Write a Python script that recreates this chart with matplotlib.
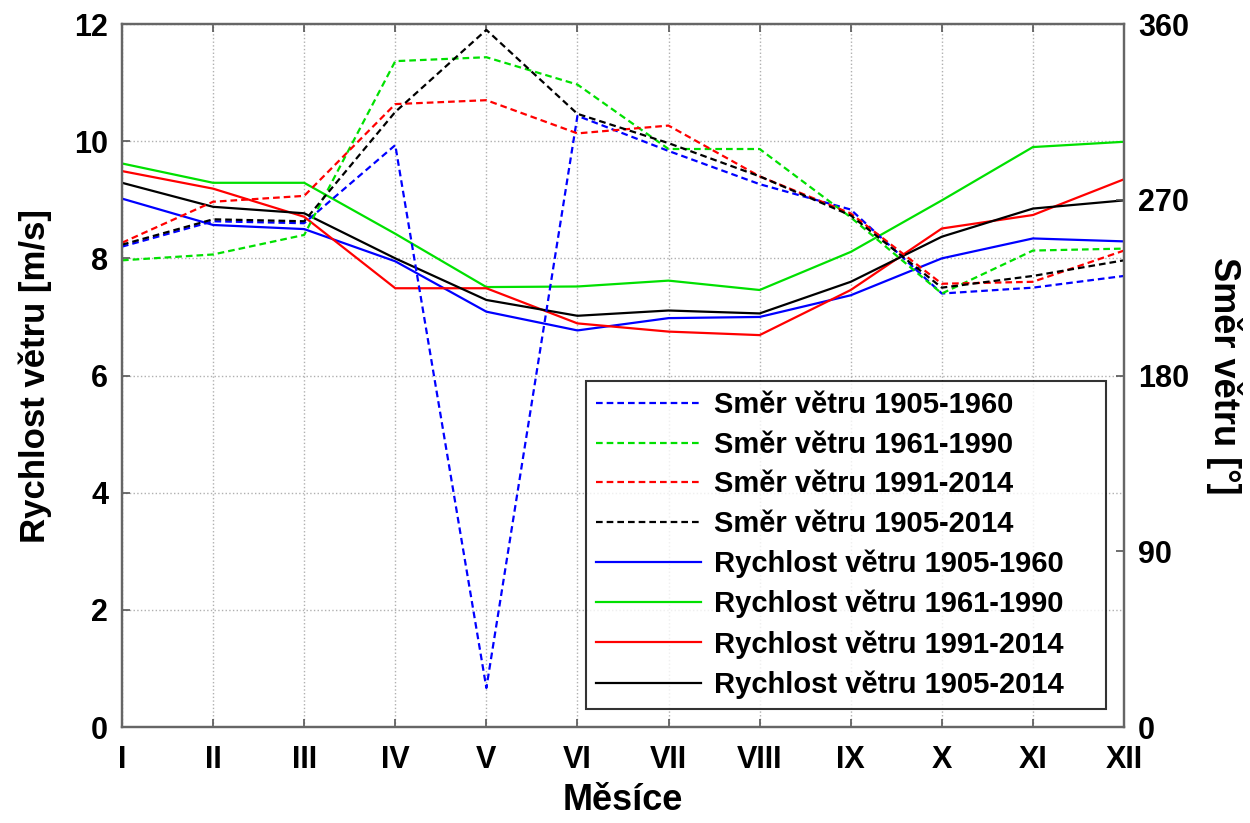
import numpy as np
import matplotlib
matplotlib.use("Agg")
import matplotlib.pyplot as plt
from matplotlib.lines import Line2D
from matplotlib import font_manager

months = ["I", "II", "III", "IV", "V", "VI", "VII", "VIII", "IX", "X", "XI", "XII"]
periods = ["1905-1960", "1961-1990", "1991-2014", "1905-2014"]
colors = ["#0000ff", "#00e000", "#ff0000", "#000000"]

# wind speed [m/s]
speed_1905_1960 = [9.02, 8.57, 8.50, 7.95, 7.09, 6.77, 6.98, 7.00, 7.37, 8.00, 8.34, 8.29]
speed_1961_1990 = [9.62, 9.29, 9.29, 8.42, 7.51, 7.52, 7.62, 7.46, 8.11, 8.99, 9.90, 9.99]
speed_1991_2014 = [9.49, 9.19, 8.71, 7.49, 7.49, 6.89, 6.75, 6.69, 7.46, 8.51, 8.74, 9.35]
speed_1905_2014 = [9.29, 8.88, 8.77, 8.00, 7.29, 7.02, 7.11, 7.06, 7.60, 8.37, 8.85, 8.99]

# wind direction [deg]
dir_1905_1960 = [246, 259, 258, 298, 20, 313, 295, 278, 265, 222, 225, 231]
dir_1961_1990 = [239, 242, 252, 341, 343, 329, 296, 296, 261, 222, 244, 245]
dir_1991_2014 = [248, 269, 272, 319, 321, 304, 308, 282, 263, 227, 228, 244]
dir_1905_2014 = [247, 260, 259, 315, 357, 314, 299, 282, 262, 225, 231, 239]

speeds = [speed_1905_1960, speed_1961_1990, speed_1991_2014, speed_1905_2014]
dirs = [dir_1905_1960, dir_1961_1990, dir_1991_2014, dir_1905_2014]

plt.rcParams['font.family'] = ['Liberation Sans', 'DejaVu Sans']
plt.rcParams['font.weight'] = 'bold'

# condensed face for the month labels, if there is one
names = set(f.name for f in font_manager.fontManager.ttflist)
if "Liberation Sans Narrow" in names:
    xfont = ["Liberation Sans Narrow", "Liberation Sans"]
    xsize = 27
else:
    xfont = ["Liberation Sans", "DejaVu Sans"]
    xsize = 24

fig = plt.figure(figsize=(12.5, 8.23), dpi=100)
ax = fig.add_axes([0.0976, 0.1166, 0.8016, 0.8542])
ax2 = ax.twinx()

x = np.arange(1, 13)
dash = (0, (3, 1.8))
for i in range(4):
    ax.plot(x, speeds[i], color=colors[i], lw=1.6)
    ax2.plot(x, dirs[i], color=colors[i], lw=1.6, ls=dash)

ax.set_xlim(1, 12)
ax.set_ylim(0, 12)
ax2.set_ylim(0, 360)
ax.set_xticks(x)
ax.set_xticklabels(months, family=xfont, fontsize=xsize, fontweight="bold")
ax.set_yticks(np.arange(0, 13, 2))
ax2.set_yticks(np.arange(0, 361, 90))

ax.grid(True, color="#b0b0b0", ls=":", lw=1.0)
for a in (ax, ax2):
    a.tick_params(direction="in", length=6, width=1.2, color="#555555",
                  labelsize=22, top=True)
    for s in a.spines.values():
        s.set_color("#666666")
        s.set_linewidth(1.6)
ax.tick_params(axis="y", pad=10)
ax.tick_params(axis="x", pad=13)
ax2.tick_params(axis="y", pad=10)

ax.set_xlabel("Měsíce", fontsize=26, fontweight="bold", labelpad=6)
ax.set_ylabel("Rychlost větru [m/s]", fontsize=25, fontweight="bold", labelpad=16)
ax2.set_ylabel("Směr větru [°]", fontsize=26, fontweight="bold", rotation=270, labelpad=38)

handles = []
labels = []
for i in range(4):
    handles.append(Line2D([], [], color=colors[i], lw=1.6, ls=dash))
    labels.append("Směr větru " + periods[i])
for i in range(4):
    handles.append(Line2D([], [], color=colors[i], lw=1.6))
    labels.append("Rychlost větru " + periods[i])

leg = ax2.legend(handles, labels, loc="lower left", bbox_to_anchor=(0.463, 0.0256, 0.519, 0.456),
                 mode="expand", fontsize=21, handlelength=3.6, handletextpad=0.45,
                 labelspacing=0.4, borderpad=0.35,
                 frameon=True, fancybox=False, edgecolor="black", borderaxespad=0)
leg.get_frame().set_linewidth(1.5)
for t in leg.get_texts():
    t.set_fontweight("bold")

fig.savefig("out.png", dpi=100)
